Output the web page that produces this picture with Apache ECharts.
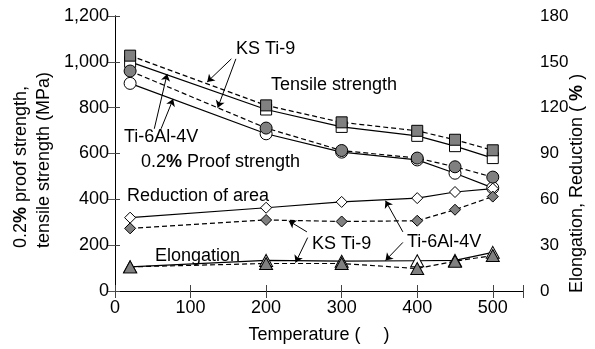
<!DOCTYPE html>
<html>
<head>
<meta charset="utf-8">
<script src="https://cdn.jsdelivr.net/npm/echarts@6/dist/echarts.min.js"></script>
<style>html,body{margin:0;padding:0;background:#fff}#c{width:595px;height:349px}</style>
</head>
<body>
<div id="c"></div>
<script>
var temps = [20, 200, 300, 400, 450, 500];
var tensileTi = [1000, 792, 716, 677, 632, 580];
var tensileKS = [1027, 810, 736, 699, 660, 614];
var proofTi = [906, 686, 606, 572, 514, 450];
var proofKS = [960, 711, 613, 580, 542, 497];
var reductionTi = [48, 54.5, 58.3, 60.8, 64.8, 67];
var reductionKS = [41, 46.5, 45.5, 46, 53.2, 61.8];
var elongTi = [15.8, 20, 19.5, 19.8, 20, 25.3];
var elongKS = [15.8, 18, 18, 14.7, 19.5, 23.2];
var leftTicks = [0, 200, 400, 600, 800, 1000, 1200];
var rightTicks = [0, 30, 60, 90, 120, 150, 180];

var FONT = '"Liberation Sans", Arial, sans-serif';
var GRAY = '#808080';
var FS = 18;

function pairs(ys) { return temps.map(function (t, i) { return [t, ys[i]]; }); }

function ser(name, ys, yIdx, symbol, size, filled, dashed) {
  return {
    name: name, type: 'line', xAxisIndex: 0, yAxisIndex: yIdx,
    data: pairs(ys), symbol: symbol, symbolSize: size, showSymbol: true,
    lineStyle: { color: '#000', width: 1.2, type: dashed ? [5, 3] : 'solid' },
    itemStyle: { color: filled ? GRAY : '#fff', borderColor: '#000', borderWidth: 1, opacity: 1 }
  };
}

// annotation arrows in data coordinates (left axis)
var arrows = [
  [[154, 1013], [122, 912]],
  [[160, 1013], [136, 800]],
  [[52, 708], [69, 947]],
  [[61, 708], [77, 838]],
  [[254, 258], [230, 306]],
  [[255, 233], [239, 124]],
  [[381, 258], [358, 394]],
  [[381, 212], [358, 133]]
];

var chart = echarts.init(document.getElementById('c'), null, { renderer: 'canvas' });
var axisLbl = { fontFamily: FONT, fontSize: FS, color: '#000' };
var boldRich = { b: { fontWeight: 'bold', fontSize: FS, fontFamily: FONT } };
function txt(left, top, s) {
  return { type: 'text', left: left, top: top, style: { text: s, font: FS + 'px ' + FONT, fill: '#000', rich: boldRich } };
}
chart.setOption({
  animation: false,
  backgroundColor: '#fff',
  grid: { left: 115, right: 72, top: 16, bottom: 51 },
  xAxis: [{
    type: 'value', min: 0, max: 540, interval: 100, position: 'bottom',
    name: 'Temperature (\u3000 )', nameLocation: 'middle', nameGap: 35,
    nameTextStyle: { fontFamily: FONT, fontSize: FS, color: '#000' },
    axisLine: { show: true, lineStyle: { color: '#000', width: 1 } },
    axisTick: { show: true, inside: true, length: 6, lineStyle: { color: '#444' } },
    axisLabel: Object.assign({ margin: 8, formatter: function (v) { return v % 100 === 0 ? String(v) : ''; } }, axisLbl),
    splitLine: { show: false }
  }, {
    type: 'value', min: 0, max: 540, interval: 100, position: 'top',
    axisLine: { show: true, lineStyle: { color: '#000', width: 1 } },
    axisTick: { show: true, inside: true, length: 7, lineStyle: { color: '#444' } },
    axisLabel: { show: false }, splitLine: { show: false }
  }],
  yAxis: [{
    type: 'value', min: 0, max: 1200, interval: 200, position: 'left',
    axisLine: { show: true, lineStyle: { color: '#000', width: 1 } },
    axisTick: { show: true, inside: true, length: 5, lineStyle: { color: '#444' } },
    axisLabel: Object.assign({ margin: 6, formatter: function (v) { return v.toLocaleString('en-US'); } }, axisLbl),
    splitLine: { show: false }
  }, {
    type: 'value', min: 0, max: 180, interval: 30, position: 'right',
    axisLine: { show: true, lineStyle: { color: '#000', width: 1 } },
    axisTick: { show: true, inside: true, length: 7, lineStyle: { color: '#555' } },
    axisLabel: { margin: 17, fontFamily: FONT, fontSize: 17, color: '#000' },
    splitLine: { show: false }
  }],
  series: [
    ser('Ti-6Al-4V tensile', tensileTi, 0, 'rect', 11, false, false),
    ser('KS Ti-9 tensile', tensileKS, 0, 'rect', 11, true, true),
    ser('Ti-6Al-4V proof', proofTi, 0, 'circle', 12, false, false),
    ser('KS Ti-9 proof', proofKS, 0, 'circle', 12, true, true),
    ser('Ti-6Al-4V reduction', reductionTi, 1, 'diamond', 11, false, false),
    ser('KS Ti-9 reduction', reductionKS, 1, 'diamond', 11, true, true),
    ser('Ti-6Al-4V elongation', elongTi, 1, 'triangle', [13, 12], false, false),
    ser('KS Ti-9 elongation', elongKS, 1, 'triangle', [13, 12], true, true),
    {
      type: 'line', xAxisIndex: 0, yAxisIndex: 0, data: [], silent: true,
      markLine: {
        silent: true, symbol: ['none', 'arrow'], symbolSize: 7, animation: false,
        label: { show: false },
        lineStyle: { color: '#000', width: 1, type: 'solid' },
        data: arrows.map(function (a) { return [{ coord: a[0] }, { coord: a[1] }]; })
      }
    }
  ],
  graphic: [
    txt(236, 40, 'KS Ti-9'),
    txt(271, 76, 'Tensile strength'),
    txt(124, 128, 'Ti-6Al-4V'),
    txt(141, 153, '0.2{b|%} Proof strength'),
    txt(127, 187, 'Reduction of area'),
    txt(155, 247, 'Elongation'),
    txt(312, 235, 'KS Ti-9'),
    txt(407, 233, 'Ti-6Al-4V'),
    { type: 'text', x: 21, y: 248, rotation: Math.PI / 2, style: { text: '0.2{b|%} proof strength,', font: FS + 'px ' + FONT, fill: '#000', textAlign: 'left', textVerticalAlign: 'middle', rich: boldRich } },
    { type: 'text', x: 44, y: 248, rotation: Math.PI / 2, style: { text: 'tensile strength (MPa)', font: FS + 'px ' + FONT, fill: '#000', textAlign: 'left', textVerticalAlign: 'middle' } },
    { type: 'text', x: 577, y: 293, rotation: Math.PI / 2, style: { text: 'Elongation, Reduction ( {b|%} )', font: FS + 'px ' + FONT, fill: '#000', textAlign: 'left', textVerticalAlign: 'middle', rich: boldRich } }
  ]
});
</script>
</body>
</html>
